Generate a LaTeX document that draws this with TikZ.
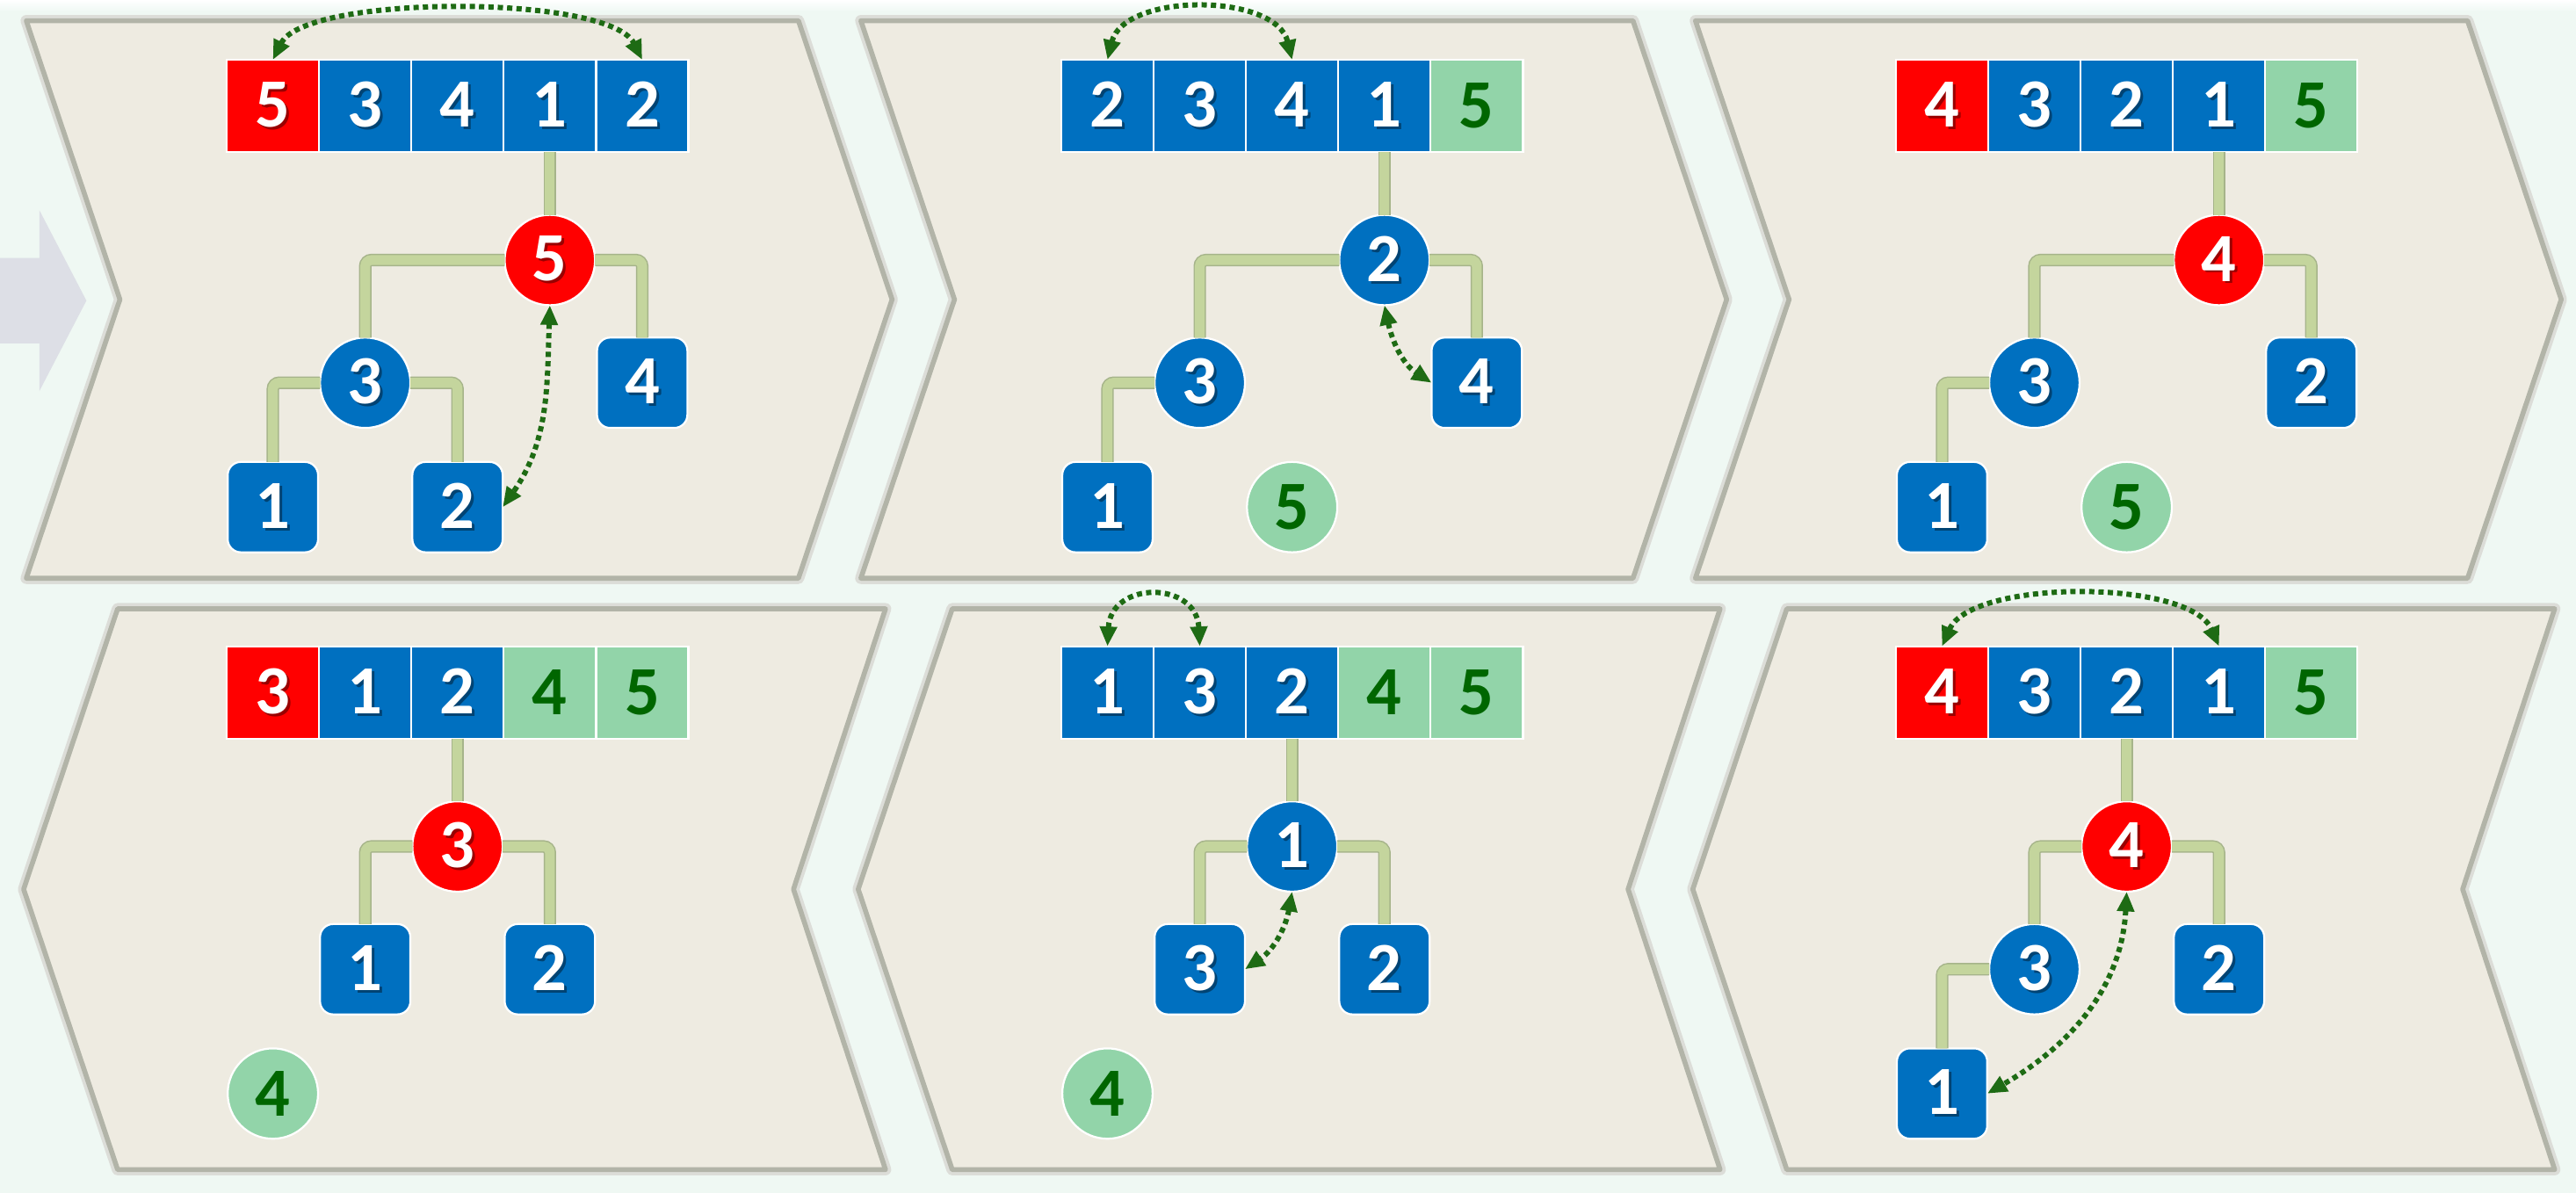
\documentclass[tikz,border=0pt]{standalone}
\usepackage{fontspec}
\setmainfont{Carlito}
\usetikzlibrary{arrows.meta}
\definecolor{bgc}{HTML}{EFF8F3}
\definecolor{chevf}{HTML}{EEEBE1}
\definecolor{chevb}{HTML}{B2B4A8}
\definecolor{cblue}{HTML}{0070C0}
\definecolor{cred}{HTML}{FF0000}
\definecolor{cgreen}{HTML}{92D4A9}
\definecolor{dgreen}{HTML}{006600}
\definecolor{agreen}{HTML}{1E6B14}
\definecolor{connf}{HTML}{C4D59D}
\definecolor{connb}{HTML}{A6B48A}
\definecolor{garrow}{HTML}{DDDFE6}
\newcommand\sh[1]{\makebox[0pt][l]{\hspace{1.6pt}\raisebox{-1.6pt}{\pgfsetfillopacity{0.4}\color{black}#1}}\pgfsetfillopacity{1}#1}
\begin{document}
\begin{tikzpicture}[x=1pt,y=-1pt,
  numfont/.style={font=\fontsize{42pt}{42pt}\selectfont\bfseries},
  base/.style={numfont, inner sep=0pt, outer sep=0pt, draw=white, line width=1.2pt, text=white},
  cellb/.style={base, rectangle, minimum width=56.2pt, minimum height=56.2pt, fill=cblue},
  cellr/.style={cellb, fill=cred},
  cellg/.style={cellb, fill=cgreen, text=dgreen},
  circb/.style={base, circle, minimum size=55pt, fill=cblue},
  circr/.style={circb, fill=cred},
  circg/.style={circb, fill=cgreen, text=dgreen},
  sqb/.style={base, rectangle, rounded corners=8pt, minimum size=55pt, fill=cblue},
  conn/.style={draw=connb, line width=7.6pt, rounded corners=3.8pt, postaction={draw=connf, line width=6pt}},
  xarrow/.style={draw=agreen, line width=3.2pt, dash pattern=on 3.2pt off 2.5pt, >={Triangle[length=12pt,width=10pt]}, <->},
  chev/.style={fill=chevf, draw=chevb, line width=3pt, line join=round, preaction={draw=chevb!45, line width=7pt, line join=round}}
]
\useasboundingbox (0,0) rectangle (1568,726.2);
\fill[bgc] (0,0) rectangle (1568,726.2);
\shade[top color=white, bottom color=bgc] (0,0) rectangle (1568,7);
% left grey arrow
\fill[garrow] (0,157) -- (24,157) -- (24,128) -- (52.6,183) -- (24,238) -- (24,209) -- (0,209) -- cycle;
% chevrons
\foreach \dx in {0,508,1016}{
  \draw[chev] (16+\dx,12.6) -- (486+\dx,12.6) -- (543+\dx,182.3) -- (486+\dx,352) -- (16+\dx,352) -- (73+\dx,182.3) -- cycle;
  \draw[chev] (71.6+\dx,370.6) -- (539+\dx,370.6) -- (483+\dx,541.3) -- (539+\dx,712) -- (71.6+\dx,712) -- (14.4+\dx,541.3) -- cycle;
}

% ---------------- panel 1 ----------------
\begin{scope}[shift={(0,0)}]
\node[cellr] (p1c1) at (166.1,64.5) {\sh{5}};
\node[cellb] (p1c2) at (222.3,64.5) {\sh{3}};
\node[cellb] (p1c3) at (278.5,64.5) {\sh{4}};
\node[cellb] (p1c4) at (334.7,64.5) {\sh{1}};
\node[cellb] (p1c5) at (390.9,64.5) {\sh{2}};
\node[circr] (p1r) at (334.7,158.3) {\sh{5}};
\node[circb] (p1a) at (222.3,233) {\sh{3}};
\node[sqb] (p1b) at (390.9,233) {\sh{4}};
\node[sqb] (p1x) at (166.1,308.7) {\sh{1}};
\node[sqb] (p1y) at (278.5,308.7) {\sh{2}};
\draw[conn] (p1c4.south) -- (p1r.north);
\draw[conn] (p1r.west) -| (p1a.north);
\draw[conn] (p1r.east) -| (p1b.north);
\draw[conn] (p1a.west) -| (p1x.north);
\draw[conn] (p1a.east) -| (p1y.north);
\draw[xarrow] (p1c1.north) .. controls +(20,-40) and +(-20,-40) .. (p1c5.north);
\draw[xarrow] (p1r.south) to[out=-92,in=55] (p1y.east);
\end{scope}

% ---------------- panel 2 ----------------
\begin{scope}[shift={(508,0)}]
\node[cellb] (p2c1) at (166.1,64.5) {\sh{2}};
\node[cellb] (p2c2) at (222.3,64.5) {\sh{3}};
\node[cellb] (p2c3) at (278.5,64.5) {\sh{4}};
\node[cellb] (p2c4) at (334.7,64.5) {\sh{1}};
\node[cellg] (p2c5) at (390.9,64.5) {5};
\node[circb] (p2r) at (334.7,158.3) {\sh{2}};
\node[circb] (p2a) at (222.3,233) {\sh{3}};
\node[sqb] (p2b) at (390.9,233) {\sh{4}};
\node[sqb] (p2x) at (166.1,308.7) {\sh{1}};
\node[circg] (p2y) at (278.5,308.7) {5};
\draw[conn] (p2c4.south) -- (p2r.north);
\draw[conn] (p2r.west) -| (p2a.north);
\draw[conn] (p2r.east) -| (p2b.north);
\draw[conn] (p2a.west) -| (p2x.north);
\draw[xarrow] (p2c1.north) .. controls +(10,-41) and +(-10,-41) .. (p2c3.north);
\draw[xarrow] (p2r.south) to[out=-78,in=147] (p2b.west);
\end{scope}

% ---------------- panel 3 ----------------
\begin{scope}[shift={(1016,0)}]
\node[cellr] (p3c1) at (166.1,64.5) {\sh{4}};
\node[cellb] (p3c2) at (222.3,64.5) {\sh{3}};
\node[cellb] (p3c3) at (278.5,64.5) {\sh{2}};
\node[cellb] (p3c4) at (334.7,64.5) {\sh{1}};
\node[cellg] (p3c5) at (390.9,64.5) {5};
\node[circr] (p3r) at (334.7,158.3) {\sh{4}};
\node[circb] (p3a) at (222.3,233) {\sh{3}};
\node[sqb] (p3b) at (390.9,233) {\sh{2}};
\node[sqb] (p3x) at (166.1,308.7) {\sh{1}};
\node[circg] (p3y) at (278.5,308.7) {5};
\draw[conn] (p3c4.south) -- (p3r.north);
\draw[conn] (p3r.west) -| (p3a.north);
\draw[conn] (p3r.east) -| (p3b.north);
\draw[conn] (p3a.west) -| (p3x.north);
\end{scope}

% ---------------- panel 4 ----------------
\begin{scope}[shift={(0,357)}]
\node[cellr] (p4c1) at (166.1,64.5) {\sh{3}};
\node[cellb] (p4c2) at (222.3,64.5) {\sh{1}};
\node[cellb] (p4c3) at (278.5,64.5) {\sh{2}};
\node[cellg] (p4c4) at (334.7,64.5) {4};
\node[cellg] (p4c5) at (390.9,64.5) {5};
\node[circr] (p4r) at (278.5,158.3) {\sh{3}};
\node[sqb] (p4a) at (222.3,233) {\sh{1}};
\node[sqb] (p4b) at (334.7,233) {\sh{2}};
\node[circg] (p4x) at (166.1,308.7) {4};
\draw[conn] (p4c3.south) -- (p4r.north);
\draw[conn] (p4r.west) -| (p4a.north);
\draw[conn] (p4r.east) -| (p4b.north);
\end{scope}

% ---------------- panel 5 ----------------
\begin{scope}[shift={(508,357)}]
\node[cellb] (p5c1) at (166.1,64.5) {\sh{1}};
\node[cellb] (p5c2) at (222.3,64.5) {\sh{3}};
\node[cellb] (p5c3) at (278.5,64.5) {\sh{2}};
\node[cellg] (p5c4) at (334.7,64.5) {4};
\node[cellg] (p5c5) at (390.9,64.5) {5};
\node[circb] (p5r) at (278.5,158.3) {\sh{1}};
\node[sqb] (p5a) at (222.3,233) {\sh{3}};
\node[sqb] (p5b) at (334.7,233) {\sh{2}};
\node[circg] (p5x) at (166.1,308.7) {4};
\draw[conn] (p5c3.south) -- (p5r.north);
\draw[conn] (p5r.west) -| (p5a.north);
\draw[conn] (p5r.east) -| (p5b.north);
\draw[xarrow] (p5c1.north) .. controls +(2,-40) and +(-2,-40) .. (p5c2.north);
\draw[xarrow] (p5r.south) to[out=-100,in=34] (p5a.east);
\end{scope}

% ---------------- panel 6 ----------------
\begin{scope}[shift={(1016,357)}]
\node[cellr] (p6c1) at (166.1,64.5) {\sh{4}};
\node[cellb] (p6c2) at (222.3,64.5) {\sh{3}};
\node[cellb] (p6c3) at (278.5,64.5) {\sh{2}};
\node[cellb] (p6c4) at (334.7,64.5) {\sh{1}};
\node[cellg] (p6c5) at (390.9,64.5) {5};
\node[circr] (p6r) at (278.5,158.3) {\sh{4}};
\node[circb] (p6a) at (222.3,233) {\sh{3}};
\node[sqb] (p6b) at (334.7,233) {\sh{2}};
\node[sqb] (p6x) at (166.1,308.7) {\sh{1}};
\draw[conn] (p6c3.south) -- (p6r.north);
\draw[conn] (p6r.west) -| (p6a.north);
\draw[conn] (p6r.east) -| (p6b.north);
\draw[conn] (p6a.west) -| (p6x.north);
\draw[xarrow] (p6c1.north) .. controls +(18,-41) and +(-18,-41) .. (p6c4.north);
\draw[xarrow] (p6r.south) to[out=-93,in=30] (p6x.east);
\end{scope}
\end{tikzpicture}
\end{document}
